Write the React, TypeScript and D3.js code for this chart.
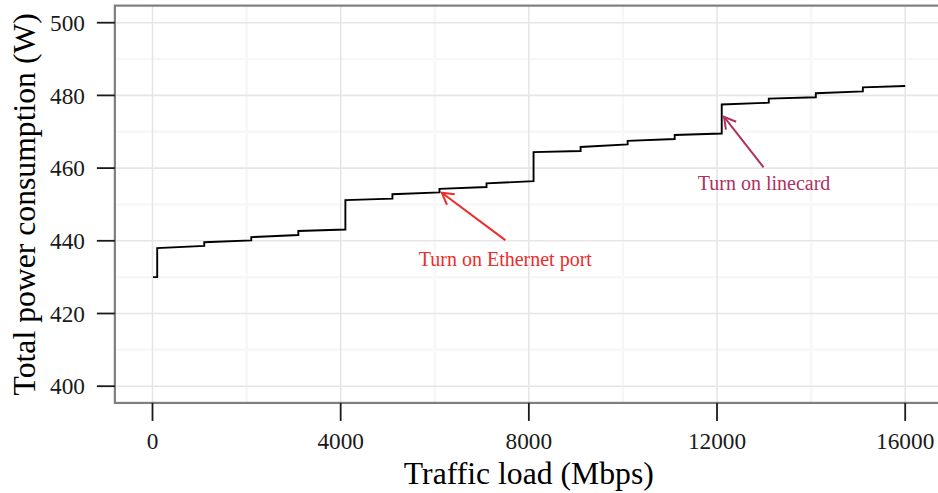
import React from "react";
import * as d3 from "d3";

// Step segments: each segment i runs from stepX[i] to stepX[i+1]
const stepX = [10, 100, 1100, 2100, 3100, 4100, 5100, 6100, 7100, 8100, 9100, 10100, 11100, 12100, 13100, 14100, 15100, 16000];
const segStartW = [430.0, 438.0, 439.6, 441.0, 442.7, 451.2, 452.8, 454.3, 455.8, 464.4, 465.8, 467.5, 469.1, 477.5, 479.1, 480.6, 482.2];
const segEndW = [430.0, 438.6, 440.1, 441.6, 443.1, 451.6, 453.3, 454.8, 456.4, 464.7, 466.5, 468.0, 469.5, 478.0, 479.5, 481.1, 482.6];

const xTicks = [0, 4000, 8000, 12000, 16000];
const xMinor = [-2000, 2000, 6000, 10000, 14000];
const yTicks = [400, 420, 440, 460, 480, 500];
const yMinor = [410, 430, 450, 470, 490];

const annoText = ["Turn on Ethernet port", "Turn on linecard"];
const annoTextX = [7500, 13000];
const annoTextY = [435, 456];
const arrowFromX = [7500, 12990];
const arrowFromY = [440.2, 460.2];
const arrowToX = [6150, 12150];
const arrowToY = [453.2, 474.1];
const annoColor = ["#EE2C2C", "#B03060"];

const W = 938;
const H = 493;
const FONT = "'Liberation Serif', 'Times New Roman', serif";

export default function App() {
  const x = d3.scaleLinear().domain([0, 16000]).range([152.5, 905.2]);
  const y = d3.scaleLinear().domain([400, 500]).range([386.2, 22.7]);
  const panel = { left: x(-800), right: x(16800), top: y(504.7), bottom: y(395.4) };

  const pts: [number, number][] = [];
  segStartW.forEach((s, i) => {
    pts.push([stepX[i], s]);
    pts.push([stepX[i + 1], segEndW[i]]);
  });
  const line = d3
    .line<[number, number]>()
    .x((d) => x(d[0]))
    .y((d) => y(d[1]));

  const arrowHead = (i: number) => {
    const x1 = x(arrowFromX[i]);
    const y1 = y(arrowFromY[i]);
    const x2 = x(arrowToX[i]);
    const y2 = y(arrowToY[i]);
    const ang = Math.atan2(y2 - y1, x2 - x1);
    const len = 13;
    const spread = Math.PI / 6;
    const a1 = ang + Math.PI - spread;
    const a2 = ang + Math.PI + spread;
    return `M${x2 + len * Math.cos(a1)},${y2 + len * Math.sin(a1)}L${x2},${y2}L${x2 + len * Math.cos(a2)},${y2 + len * Math.sin(a2)}`;
  };

  return (
    <svg width={W} height={H} style={{ position: "absolute", left: 0, top: 0, background: "#fff" }} fontFamily={FONT}>
      <defs>
        <clipPath id="panelClip">
          <rect x={panel.left} y={panel.top} width={panel.right - panel.left} height={panel.bottom - panel.top} />
        </clipPath>
      </defs>
      <rect x={panel.left} y={panel.top} width={panel.right - panel.left} height={panel.bottom - panel.top} fill="#fff" />
      <g clipPath="url(#panelClip)">
        {yMinor.map((v) => (
          <line key={"ym" + v} x1={panel.left} x2={panel.right} y1={y(v)} y2={y(v)} stroke="#f7f7f7" strokeWidth={2.5} />
        ))}
        {xMinor.map((v) => (
          <line key={"xm" + v} y1={panel.top} y2={panel.bottom} x1={x(v)} x2={x(v)} stroke="#f7f7f7" strokeWidth={2.5} />
        ))}
        {yTicks.map((v) => (
          <line key={"yg" + v} x1={panel.left} x2={panel.right} y1={y(v)} y2={y(v)} stroke="#e6e6e6" strokeWidth={1.6} />
        ))}
        {xTicks.map((v) => (
          <line key={"xg" + v} y1={panel.top} y2={panel.bottom} x1={x(v)} x2={x(v)} stroke="#e6e6e6" strokeWidth={1.6} />
        ))}
        <path d={line(pts) || ""} fill="none" stroke="#000" strokeWidth={1.9} />
        {annoText.map((t, i) => (
          <g key={"a" + i}>
            <line
              x1={x(arrowFromX[i])}
              y1={y(arrowFromY[i])}
              x2={x(arrowToX[i])}
              y2={y(arrowToY[i])}
              stroke={annoColor[i]}
              strokeWidth={2}
            />
            <path d={arrowHead(i)} fill="none" stroke={annoColor[i]} strokeWidth={2} />
            <text
              x={x(annoTextX[i])}
              y={y(annoTextY[i])}
              dy="0.35em"
              textAnchor="middle"
              fontSize={20}
              fill={annoColor[i]}
            >
              {t}
            </text>
          </g>
        ))}
      </g>
      <rect
        x={panel.left}
        y={panel.top}
        width={panel.right - panel.left}
        height={panel.bottom - panel.top}
        fill="none"
        stroke="#7f7f7f"
        strokeWidth={2.2}
      />
      {yTicks.map((v) => (
        <g key={"yt" + v}>
          <line x1={panel.left - 18} x2={panel.left} y1={y(v)} y2={y(v)} stroke="#1a1a1a" strokeWidth={1.8} />
          <text x={85} y={y(v)} dy="0.35em" textAnchor="end" fontSize={23.3} fill="#1a1a1a">
            {v}
          </text>
        </g>
      ))}
      {xTicks.map((v) => (
        <g key={"xt" + v}>
          <line x1={x(v)} x2={x(v)} y1={panel.bottom} y2={panel.bottom + 18} stroke="#1a1a1a" strokeWidth={1.8} />
          <text x={x(v)} y={449} textAnchor="middle" fontSize={23.3} fill="#1a1a1a">
            {v}
          </text>
        </g>
      ))}
      <text x={(panel.left + panel.right) / 2} y={484} textAnchor="middle" fontSize={31.7} fill="#000">
        Traffic load (Mbps)
      </text>
      <text
        transform={`translate(35,${(panel.top + panel.bottom) / 2}) rotate(-90)`}
        textAnchor="middle"
        fontSize={31.7}
        fill="#000"
      >
        Total power consumption (W)
      </text>
    </svg>
  );
}
